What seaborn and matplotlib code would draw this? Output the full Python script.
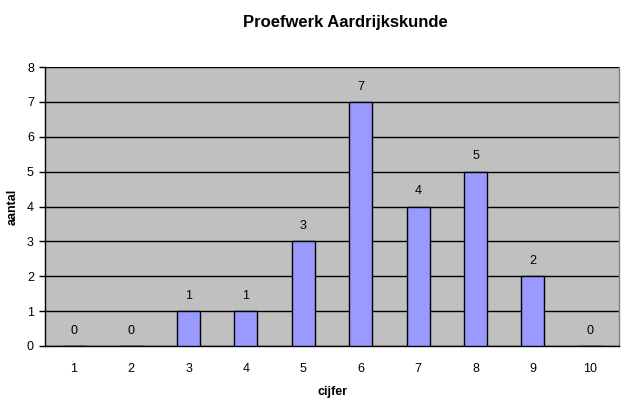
import matplotlib
matplotlib.use("Agg")
import matplotlib.pyplot as plt
import seaborn as sns
import pandas as pd
import numpy as np

cijfer = ["1", "2", "3", "4", "5", "6", "7", "8", "9", "10"]
aantal = [0, 0, 1, 1, 3, 7, 4, 5, 2, 0]

df = pd.DataFrame({"cijfer": cijfer, "aantal": aantal})

sns.set_style("white")
plt.rcParams["font.family"] = ["Liberation Sans", "DejaVu Sans"]
plt.rcParams["text.color"] = "black"
plt.rcParams["axes.labelcolor"] = "black"
plt.rcParams["xtick.color"] = "black"
plt.rcParams["ytick.color"] = "black"

fig = plt.figure(figsize=(6.28, 4.0), dpi=100)
ax = fig.add_axes([45 / 628, 54 / 400, 574 / 628, 279 / 400])
ax.set_facecolor("#C0C0C0")

sns.barplot(x="cijfer", y="aantal", data=df, color="#9999FF", width=0.4,
            edgecolor="black", linewidth=1, saturation=1, ax=ax, zorder=3)

ax.set_ylim(0, 8)
ax.set_xlim(-0.5, len(cijfer) - 0.5)
ax.set_yticks(range(0, 9))
ax.yaxis.grid(True, color="black", linewidth=1, zorder=0)
ax.set_axisbelow(True)

# tick marks between categories, labels at centers
ax.set_xticks(np.arange(len(cijfer)))
ax.set_xticklabels(cijfer)
ax.set_xticks(np.arange(-0.5, len(cijfer)), minor=True)
ax.tick_params(axis="x", which="major", length=0, pad=12, labelsize=9)
ax.tick_params(axis="x", which="minor", length=4, width=1, color="black", direction="out")
ax.tick_params(axis="y", length=4, width=1, color="black", direction="out", labelsize=9, pad=4)
ax.tick_params(axis="both", left=True, bottom=True)

for side in ["left", "bottom"]:
    ax.spines[side].set_color("black")
    ax.spines[side].set_linewidth(1)
ax.spines["top"].set_visible(False)
ax.spines["right"].set_color("#808080")
ax.spines["right"].set_linewidth(1)

for i, v in enumerate(aantal):
    ax.annotate(str(v), (i, v), xytext=(0, 11), textcoords="offset points",
                ha="center", va="center", fontsize=9)

ax.set_xlabel("cijfer", fontsize=9, fontweight="bold", labelpad=8)
ax.set_ylabel("aantal", fontsize=9, fontweight="bold")
ax.yaxis.set_label_coords(-26 / 574, 0.5)
fig.suptitle("Proefwerk Aardrijkskunde", x=345 / 628, y=1 - 22 / 400, va="center",
             fontsize=12, fontweight="bold")

fig.savefig("out.png", dpi=100)
